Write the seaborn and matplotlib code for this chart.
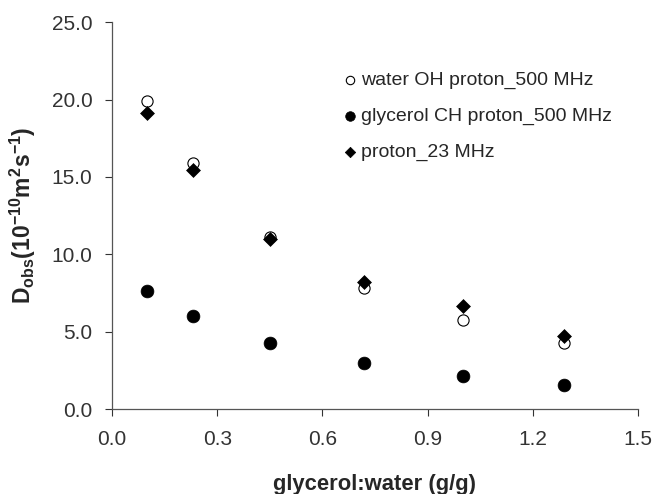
import pandas as pd
import matplotlib
matplotlib.use('Agg')
import matplotlib.pyplot as plt
import seaborn as sns

# glycerol:water ratio (g/g)
ratio = [0.10, 0.23, 0.45, 0.72, 1.00, 1.29]
# observed diffusion coefficients (10^-10 m^2 s^-1)
water_oh = [19.9, 15.9, 11.15, 7.8, 5.75, 4.25]
glycerol_ch = [7.6, 6.0, 4.27, 2.95, 2.15, 1.57]
proton_23 = [19.15, 15.43, 11.0, 8.2, 6.65, 4.75]

series_names = ['water OH proton_500 MHz', 'glycerol CH proton_500 MHz', 'proton_23 MHz']

sns.set_style('ticks')
plt.rcParams['font.family'] = ['Liberation Sans', 'DejaVu Sans']
plt.rcParams['mathtext.default'] = 'regular'

fig = plt.figure(figsize=(6.55, 4.94), dpi=100)
ax = fig.add_axes([0.171, 0.172, 0.803, 0.783])

df_w = pd.DataFrame({'x': ratio, 'y': water_oh})
df_g = pd.DataFrame({'x': ratio, 'y': glycerol_ch})
df_p = pd.DataFrame({'x': ratio, 'y': proton_23})

sns.scatterplot(data=df_w, x='x', y='y', ax=ax, marker='o', s=65, facecolor='white',
                edgecolor='black', linewidth=0.8, label=series_names[0], zorder=3)
sns.scatterplot(data=df_g, x='x', y='y', ax=ax, marker='o', s=85, color='black',
                edgecolor='black', linewidth=0.5, label=series_names[1], zorder=2)
sns.scatterplot(data=df_p, x='x', y='y', ax=ax, marker='D', s=50, color='black',
                edgecolor='black', linewidth=0.5, label=series_names[2], zorder=4)

ax.set_xlim(0, 1.5)
ax.set_ylim(0, 25)
ax.set_xticks([0.0, 0.3, 0.6, 0.9, 1.2, 1.5])
ax.set_yticks([0, 5, 10, 15, 20, 25])
ax.set_xticklabels(['0.0', '0.3', '0.6', '0.9', '1.2', '1.5'])
ax.set_yticklabels(['0.0', '5.0', '10.0', '15.0', '20.0', '25.0'])
ax.tick_params(axis='both', labelsize=15, colors='#333333', length=5, width=0.8)
ax.tick_params(axis='y', pad=9)
ax.tick_params(axis='x', pad=10)
sns.despine(ax=ax)
for sp in ['left', 'bottom']:
    ax.spines[sp].set_color('#555555')
    ax.spines[sp].set_linewidth(0.9)

ax.set_xlabel('glycerol:water (g/g)', fontsize=15.8, fontweight='bold', labelpad=18)
ax.set_ylabel('D$_{obs}$(10$^{-10}$m$^{2}$s$^{-1}$)', fontsize=16.5, fontweight='bold', labelpad=10)

ax.legend(loc='upper left', bbox_to_anchor=(0.40, 0.918), frameon=False, fontsize=14,
          handletextpad=0.1, handlelength=1.0, labelspacing=0.93, markerscale=0.75)

fig.savefig('out.png', dpi=100)
